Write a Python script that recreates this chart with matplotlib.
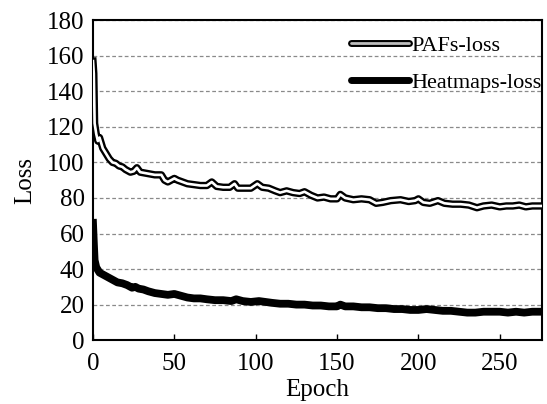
import numpy as np
import matplotlib
matplotlib.use('Agg')
import matplotlib.pyplot as plt
from matplotlib.lines import Line2D
from matplotlib.legend_handler import HandlerTuple

plt.rcParams['font.family'] = 'Liberation Serif'

#%% values
pafEpochs = [0, 0.5, 1, 2, 3, 4, 5, 6, 8, 10, 12, 14, 16, 18, 20, 23, 25, 27, 29, 32,
             35, 38, 42, 44, 46, 48, 50, 52, 55, 58, 62, 66, 70, 73, 76, 80, 84, 87, 89, 93,
             97, 101, 104, 108, 112, 115, 119, 123, 127, 130, 134, 138, 142, 146, 150, 152, 155, 160, 165, 170,
             174, 178, 183, 189, 194, 198, 200, 203, 207, 212, 216, 221, 226, 231, 236, 240, 245, 250, 254, 258,
             262, 266, 270, 276]
pafLoss = [157, 150, 122, 116, 112, 114, 111, 108, 105, 102, 100, 99.5, 98, 97.5, 96, 94.5, 95, 97, 94.5, 94,
           93.5, 93, 93, 90, 89, 90, 91, 90, 89, 88, 87.5, 87, 87, 89, 86.5, 86, 86, 88, 85.5, 85.5,
           85.5, 88, 86, 85.5, 84, 83, 84, 83, 82.5, 83.5, 81.5, 80, 80.5, 79.5, 79.5, 82, 80, 79, 79.5, 79,
           77, 77.5, 78.5, 79, 78, 78.5, 79.5, 77.5, 77, 78.5, 77, 76.5, 76.5, 76, 74.5, 75.5, 76, 75, 75.5, 75.5,
           76, 75, 75.5, 75.5]

heatEpochs = [0, 0.5, 1, 2, 4, 6, 8, 10, 12, 15, 18, 21, 24, 26, 28, 31, 34, 38, 42, 46,
              50, 54, 58, 62, 66, 70, 75, 80, 85, 88, 92, 97, 102, 106, 110, 115, 120, 125, 130, 135,
              140, 145, 150, 152, 155, 160, 165, 170, 175, 180, 185, 190, 195, 200, 205, 210, 215, 220, 225, 230,
              235, 240, 245, 250, 255, 260, 265, 270, 276]
heatLoss = [66, 55, 45, 41, 38, 37, 36, 35, 34, 32.5, 32, 31, 29.5, 30, 29, 28.5, 27.5, 26.5, 26, 25.5,
            26, 25, 24, 23.5, 23.5, 23, 22.5, 22.5, 22, 23, 22, 21.5, 22, 21.5, 21, 20.5, 20.5, 20, 20, 19.5,
            19.5, 19, 19, 20, 19, 19, 18.5, 18.5, 18, 18, 17.5, 17.5, 17, 17, 17.5, 17, 16.5, 16.5, 16, 15.5,
            15.5, 16, 16, 16, 15.5, 16, 15.5, 16, 16]

xTicks = [0, 50, 100, 150, 200, 250]
yTicks = list(range(0, 181, 20))

#%%
fig = plt.figure(figsize=(5.47, 4.04), dpi=100)
axs = fig.add_axes([0.170, 0.158, 0.821, 0.792])

axs.plot(heatEpochs, heatLoss, color='black', linewidth=5.6, solid_joinstyle='round', zorder=3)
axs.plot(pafEpochs, pafLoss, color='black', linewidth=5.3, solid_joinstyle='round', zorder=3)
axs.plot(pafEpochs, pafLoss, color='white', linewidth=1.9, solid_joinstyle='round', zorder=4)

axs.set_xlim(0, 276)
axs.set_ylim(0, 180)
axs.set_xticks(xTicks)
axs.set_yticks(yTicks)
axs.tick_params(axis='x', direction='in', length=4, width=1, labelsize=18, pad=9)
axs.tick_params(axis='y', length=0, labelsize=18, pad=6)
axs.yaxis.grid(True, linestyle=(0, (3, 2)), color='#8a8a8a', linewidth=0.9)
axs.set_axisbelow(True)
for s in axs.spines.values():
    s.set_linewidth(1.5)

axs.set_xlabel('Epoch', fontsize=18, labelpad=3)
axs.set_ylabel('Loss', fontsize=18, labelpad=8)

pafOuter = Line2D([], [], color='black', linewidth=5.0, solid_capstyle='round')
pafInner = Line2D([], [], color='#bdbdbd', linewidth=2.0, solid_capstyle='round')
heatProxy = Line2D([], [], color='black', linewidth=5.0, solid_capstyle='round')
axs.legend([(pafOuter, pafInner), heatProxy], ['PAFs-loss', 'Heatmaps-loss'],
           handler_map={tuple: HandlerTuple(ndivide=1, pad=0)},
           loc='upper left', bbox_to_anchor=(0.575, 0.953), frameon=False,
           fontsize=16, handlelength=2.6, handletextpad=0.1, labelspacing=0.75,
           borderpad=0, borderaxespad=0)

fig.savefig('out.png', dpi=100)
